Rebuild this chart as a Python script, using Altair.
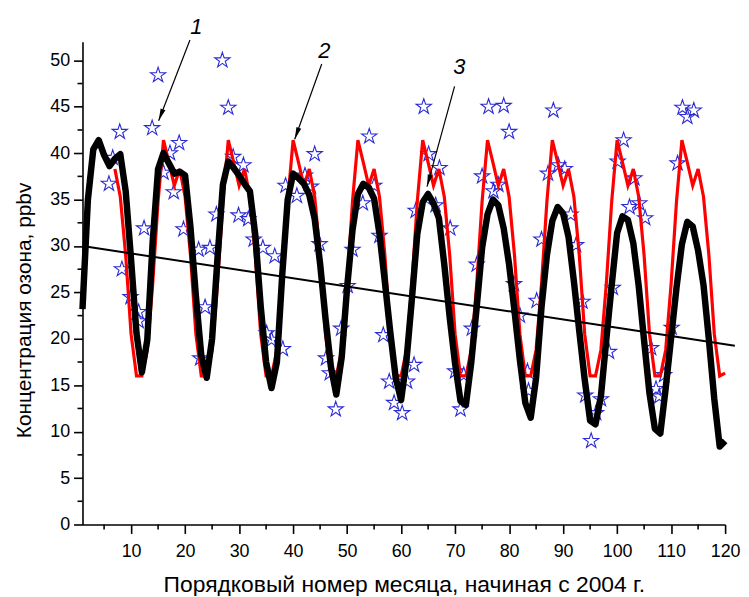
import math
import altair as alt
import pandas as pd

# ---------------- data ----------------
months = list(range(1, 121))
black_model = [
    23.2, 35.0, 40.4, 41.4, 39.8, 38.6, 39.4, 39.9, 35.9, 28.5, 20.6, 16.4,
    19.9, 30.5, 38.3, 40.0, 38.9, 37.8, 38.0, 37.6, 32.0, 24.6, 18.2, 15.8,
    20.0, 28.7, 36.6, 39.1, 38.4, 37.6, 36.7, 35.9, 31.2, 23.5, 17.5, 14.7,
    17.5, 27.0, 35.0, 37.8, 37.3, 36.7, 35.5, 32.9, 28.1, 22.2, 17.0, 14.0,
    18.0, 25.5, 31.7, 35.6, 36.7, 36.3, 35.1, 31.3, 26.1, 20.7, 15.8, 13.4,
    17.7, 24.3, 31.3, 34.7, 35.6, 34.6, 33.0, 28.0, 22.3, 17.3, 13.3, 12.9,
    17.5, 23.4, 29.8, 33.4, 35.0, 34.4, 31.9, 28.0, 23.0, 17.7, 13.1, 11.5,
    15.8, 23.4, 29.0, 32.7, 34.2, 33.5, 31.0, 26.2, 20.8, 15.6, 11.2, 10.8,
    13.8, 19.9, 25.8, 31.4, 33.2, 32.8, 30.3, 25.7, 19.8, 14.1, 10.3, 9.8,
    14.7, 20.1, 25.5, 30.2, 32.6, 32.1, 29.5, 25.8, 19.9, 13.5, 8.4, 9.0,
]

red_months = list(range(7, 121))
red_model = [
    38.3, 35.3, 29.0, 20.5, 16.0, 16.0,
    18.8, 25.9, 34.8, 41.4, 39.0, 36.5, 38.3, 35.3, 29.0, 20.5, 16.0, 16.0,
    18.8, 25.9, 34.8, 41.4, 39.0, 36.5, 38.3, 35.3, 29.0, 20.5, 16.0, 16.0,
    18.8, 25.9, 34.8, 41.4, 39.0, 36.5, 38.3, 35.3, 29.0, 20.5, 16.0, 16.0,
    18.8, 25.9, 34.8, 41.4, 39.0, 36.5, 38.3, 35.3, 29.0, 20.5, 16.0, 16.0,
    18.8, 25.9, 34.8, 41.4, 39.0, 36.5, 38.3, 35.3, 29.0, 20.5, 16.0, 16.0,
    18.8, 25.9, 34.8, 41.4, 39.0, 36.5, 38.3, 35.3, 29.0, 20.5, 16.0, 16.0,
    18.8, 25.9, 34.8, 41.4, 39.0, 36.5, 38.3, 35.3, 29.0, 20.5, 16.0, 16.0,
    18.8, 25.9, 34.8, 41.4, 39.0, 36.5, 38.3, 35.3, 29.0, 20.5, 16.0, 16.0,
    18.8, 25.9, 34.8, 41.4, 39.0, 36.5, 38.3, 35.3, 29.0, 20.5, 16.0, 16.3,
]

star_x = [
    5.9, 6.6, 7.9, 8.3, 9.9, 11.4, 11.4, 12.4, 13.9, 15.0, 16.0, 17.2, 17.9, 18.9, 19.7,
    22.5, 22.8, 23.7, 24.6, 25.8, 26.9, 28.0, 28.9, 29.9, 30.8, 31.7, 32.7, 34.4, 35.1, 36.0, 36.6, 38.1,
    38.6, 40.7, 42.2, 43.3, 44.0, 44.9, 46.1, 46.8, 47.9, 48.9,
    50.1, 51.0, 52.9, 54.1, 55.0, 56.0, 56.7, 57.8, 58.7, 60.2, 61.1, 62.4,
    62.7, 64.2, 65.1, 66.4, 67.1, 69.1, 70.0, 71.0, 71.6, 73.1, 74.0,
    75.0, 76.2, 77.1, 78.0, 79.0, 80.0, 80.9, 82.0, 83.4, 83.6, 85.1, 86.0,
    87.2, 88.2, 89.1, 90.3, 91.4, 92.4, 93.6, 94.1, 95.2, 96.1, 97.0, 98.5, 99.2,
    100.1, 101.2, 102.3, 103.2, 104.1, 105.2, 106.3, 107.2, 107.8, 108.7, 110.1,
    111.2, 112.1, 113.0, 114.2,
]
star_y = [
    36.7, 39.5, 42.3, 27.5, 24.5, 22.9, 21.9, 31.9, 42.7, 48.4, 37.9, 40.0, 35.8, 41.1, 31.8,
    29.6, 17.9, 23.4, 29.8, 33.4, 50.0, 44.9, 39.6, 33.3, 38.7, 32.9, 30.7, 29.8, 20.6, 19.9, 28.9, 18.9,
    36.5, 35.4, 37.6, 36.4, 39.9, 30.2, 17.9, 16.3, 12.4, 21.1,
    25.7, 29.6, 34.6, 41.8, 36.5, 31.1, 20.4, 15.4, 13.1, 12.0, 15.4, 17.2,
    33.8, 45.0, 39.9, 34.4, 38.4, 31.9, 16.5, 12.4, 16.1, 21.1, 28.0,
    37.5, 45.0, 35.9, 36.6, 45.1, 42.3, 25.9, 22.5, 16.5, 14.4, 24.1, 30.7,
    37.8, 44.6, 38.7, 38.3, 33.4, 30.1, 24.0, 13.9, 9.0, 12.0, 13.5, 18.6, 25.5,
    39.1, 41.4, 34.2, 37.3, 34.6, 33.0, 19.0, 14.6, 13.8, 16.1, 21.2,
    38.9, 44.9, 43.9, 44.6,
]

trend_x = [1.0, 121.8]
trend_y = [30.0, 19.25]

ann_label = ["1", "2", "3"]
ann_text_x = [22.1, 45.8, 70.8]
ann_text_y = [53.6, 51.0, 49.3]
ann_from_x = [20.9, 45.3, 69.9]
ann_from_y = [52.2, 49.6, 47.2]
ann_to_x = [15.1, 40.3, 64.8]
ann_to_y = [43.5, 41.5, 36.4]

x_major = [10, 20, 30, 40, 50, 60, 70, 80, 90, 100, 110, 120]
x_minor = [5, 15, 25, 35, 45, 55, 65, 75, 85, 95, 105, 115]
y_major = [0, 5, 10, 15, 20, 25, 30, 35, 40, 45, 50]
y_minor = [2.5, 7.5, 12.5, 17.5, 22.5, 27.5, 32.5, 37.5, 42.5, 47.5]

# ---------------- layout ----------------
W, H = 647, 486
X_DOM, Y_DOM = [1, 120], [0, 52]
px_x = W / (X_DOM[1] - X_DOM[0])
px_y = H / (Y_DOM[1] - Y_DOM[0])

FONT = "Liberation Sans"
STAR = ("M0,-1L0.2245,-0.309L0.951,-0.309L0.363,0.118L0.588,0.809L0,0.382"
        "L-0.588,0.809L-0.363,0.118L-0.951,-0.309L-0.2245,-0.309Z")
HEAD = "M0,0L0.42,2L-0.42,2Z"

black_df = pd.DataFrame({"m": months, "v": black_model})
red_df = pd.DataFrame({"m": red_months, "v": red_model})
star_df = pd.DataFrame({"m": star_x, "v": star_y})
trend_df = pd.DataFrame({"m": trend_x, "v": trend_y})
xminor_df = pd.DataFrame({"t": x_minor})
yminor_df = pd.DataFrame({"t": y_minor})

angles = []
for fx, fy, tx, ty in zip(ann_from_x, ann_from_y, ann_to_x, ann_to_y):
    dx = (tx - fx) * px_x
    dy = -(ty - fy) * px_y
    angles.append(math.degrees(math.atan2(dx, -dy)) % 360)
ann_df = pd.DataFrame({
    "label": ann_label, "tx": ann_text_x, "ty": ann_text_y,
    "fx": ann_from_x, "fy": ann_from_y, "ex": ann_to_x, "ey": ann_to_y,
    "ang": angles,
})

xs = alt.Scale(domain=X_DOM, nice=False, zero=False)
ys = alt.Scale(domain=Y_DOM, nice=False, zero=False)

x_axis = alt.Axis(
    values=x_major, tickSize=9, labelPadding=9, labelFlush=False, labelOverlap=False,
    title="Порядковый номер месяца, начиная с 2004 г.", titlePadding=13,
    titleFontSize=23, grid=False,
)
y_axis = alt.Axis(
    values=y_major, tickSize=9, labelPadding=4, labelFlush=False, labelOverlap=False,
    title="Концентрация озона, ppbv", titleFontSize=21,
    titleX=-58, titleY=270, titleBaseline="middle", titleAngle=270,
    grid=False,
)

stars = alt.Chart(star_df).mark_point(
    shape=STAR, filled=False, stroke="#2b2bd6", strokeWidth=1.1, size=260, opacity=1
).encode(
    x=alt.X("m:Q", scale=xs, axis=x_axis),
    y=alt.Y("v:Q", scale=ys, axis=y_axis),
)

x_minor_ticks = alt.Chart(xminor_df).mark_rule(color="#000000", strokeWidth=1.6).encode(
    x=alt.X("t:Q", scale=xs), y=alt.value(H), y2=alt.value(H + 5)
)
y_minor_ticks = alt.Chart(yminor_df).mark_rule(color="#000000", strokeWidth=1.6).encode(
    y=alt.Y("t:Q", scale=ys), x=alt.value(0), x2=alt.value(-5)
)

red = alt.Chart(red_df).mark_line(color="#ff0000", strokeWidth=3.2, strokeJoin="miter").encode(
    x=alt.X("m:Q", scale=xs), y=alt.Y("v:Q", scale=ys)
)
black = alt.Chart(black_df).mark_line(color="#000000", strokeWidth=6.5, strokeJoin="round").encode(
    x=alt.X("m:Q", scale=xs), y=alt.Y("v:Q", scale=ys)
)
trend = alt.Chart(trend_df).mark_line(color="#000000", strokeWidth=2).encode(
    x=alt.X("m:Q", scale=xs), y=alt.Y("v:Q", scale=ys)
)

arrow_lines = alt.Chart(ann_df).mark_rule(color="#000000", strokeWidth=1.2).encode(
    x=alt.X("fx:Q", scale=xs), y=alt.Y("fy:Q", scale=ys), x2="ex:Q", y2="ey:Q"
)
arrow_heads = alt.Chart(ann_df).mark_point(
    shape=HEAD, filled=True, color="#000000", size=150, opacity=1
).encode(
    x=alt.X("ex:Q", scale=xs), y=alt.Y("ey:Q", scale=ys), angle=alt.Angle("ang:Q", scale=None)
)
ann_text = alt.Chart(ann_df).mark_text(
    font=FONT, fontSize=22, fontStyle="italic", color="#000000", align="center", baseline="middle"
).encode(
    x=alt.X("tx:Q", scale=xs), y=alt.Y("ty:Q", scale=ys), text="label:N"
)

chart = alt.layer(
    stars, x_minor_ticks, y_minor_ticks, red, black, trend, arrow_lines, arrow_heads, ann_text
).properties(
    width=W, height=H,
    autosize=alt.AutoSizeParams(type="none"),
    padding={"left": 75, "top": 32, "right": 16, "bottom": 70},
    background="white",
).configure_view(stroke=None).configure_axis(
    labelFont=FONT, labelFontSize=18, labelColor="#000000",
    titleFont=FONT, titleFontWeight="normal", titleColor="#000000",
    domainColor="#000000", domainWidth=1.6, tickColor="#000000", tickWidth=1.6,
)

chart.save("out.html", embed_options={"renderer": "svg", "actions": False})
